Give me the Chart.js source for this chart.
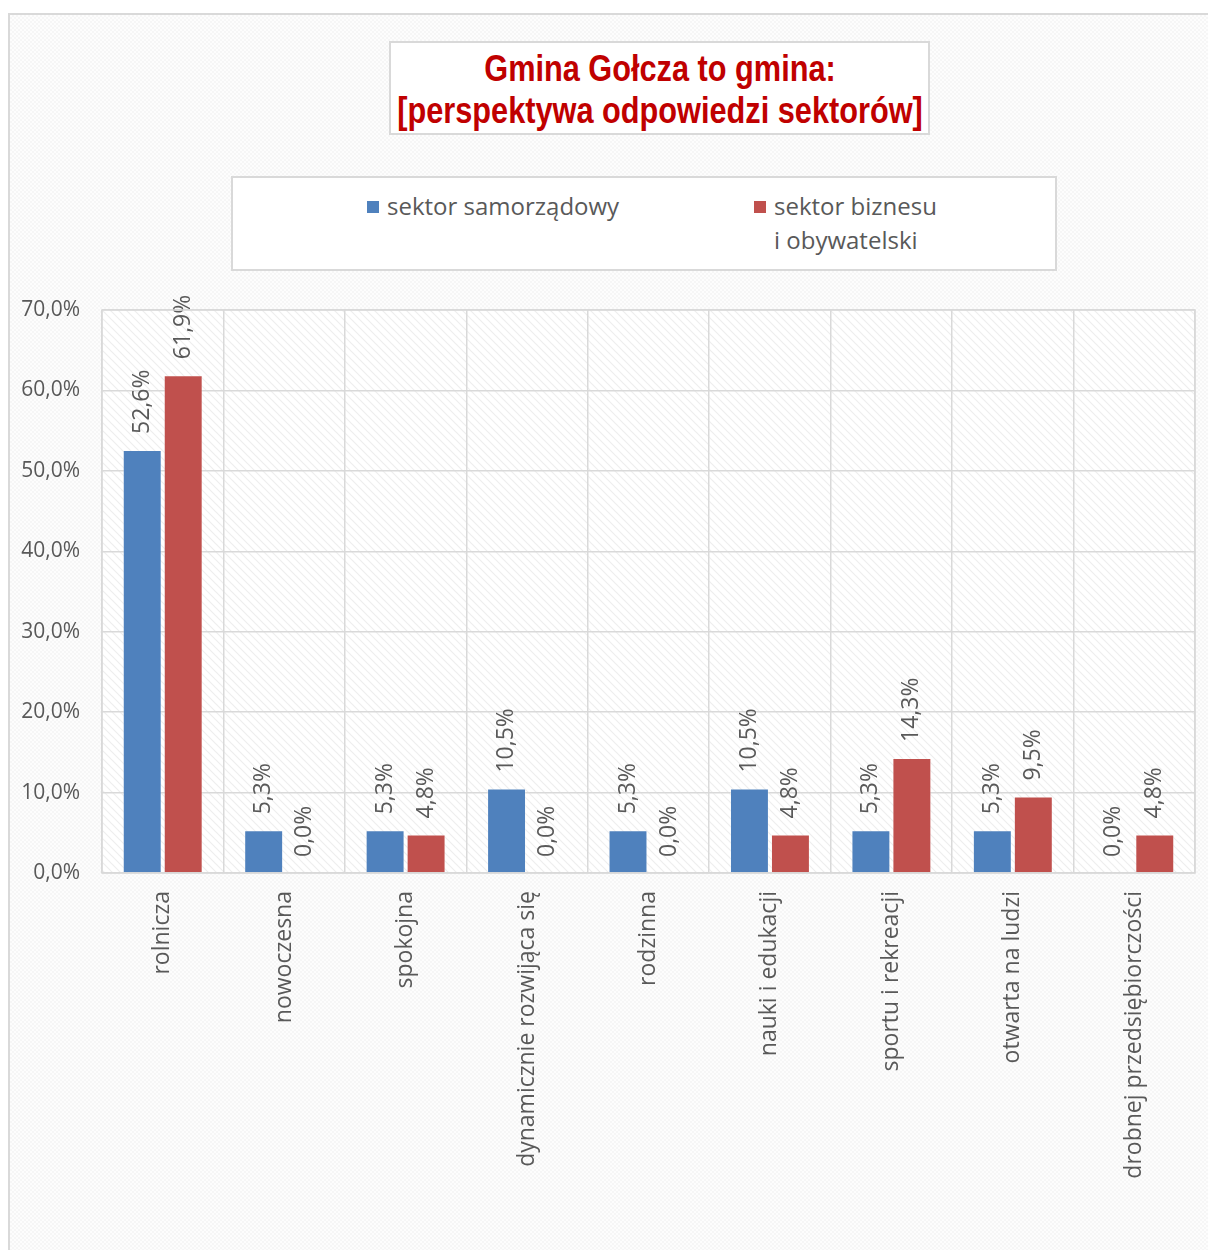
<!DOCTYPE html>
<html>
<head>
<meta charset="utf-8">
<script src="https://cdn.jsdelivr.net/npm/chart.js@4.4.0/dist/chart.umd.min.js"></script>
<style>
  html, body { margin:0; padding:0; background:#fff; }
  #wrap { position:relative; width:1208px; height:1250px; overflow:hidden; }
  #frame { position:absolute; left:8px; top:13px; width:1230px; height:1260px; box-sizing:border-box;
    border:2px solid #d9d9d9;
    background-color:#fbfbfb;
    background-image: repeating-conic-gradient(#f6f6f6 0% 25%, #fdfdfd 0% 50%);
    background-size:4px 4px; }
  #chart { position:absolute; left:0; top:0; }
  #title { position:absolute; left:389px; top:41px; width:541px; height:94px; box-sizing:border-box;
    border:2px solid #d9d9d9; background:#fff; color:#C00000;
    font-family:"Liberation Sans Narrow","Arial Narrow","Liberation Sans",sans-serif; font-weight:bold;
    font-size:37px; line-height:42px; }
  #title span { position:absolute; left:50%; white-space:nowrap;
    transform:translateX(-50%) scaleX(0.83); transform-origin:center; }
  #legend { position:absolute; left:231px; top:176px; width:826px; height:95px; box-sizing:border-box;
    border:2px solid #d9d9d9; background:#fff; font-family:"Open Sans",sans-serif; font-size:24px; color:#595959; }
  .item { position:absolute; line-height:34px; white-space:nowrap; }
  .sw { position:absolute; width:12px; height:12px; }
</style>
</head>
<body>
<div id="wrap">
  <div id="frame"></div>
  <canvas id="chart" width="1208" height="1250"></canvas>
  <div id="title">
    <span style="top:5px;">Gmina Gołcza to gmina:</span>
    <span style="top:47px;">[perspektywa odpowiedzi sektorów]</span>
  </div>
  <div id="legend">
    <div class="sw" style="left:134px; top:23px; background:#4F81BD;"></div>
    <div class="item" style="left:154px; top:11px;">sektor samorządowy</div>
    <div class="sw" style="left:521px; top:23px; background:#C0504D;"></div>
    <div class="item" style="left:541px; top:11px;">sektor biznesu<br>i obywatelski</div>
  </div>
</div>
<script>
const categories = ["rolnicza", "nowoczesna", "spokojna", "dynamicznie rozwijąca się", "rodzinna",
  "nauki i edukacji", "sportu i rekreacji", "otwarta na ludzi", "drobnej przedsiębiorczości"];
const samorzadowy = [52.6, 5.3, 5.3, 10.5, 5.3, 10.5, 5.3, 5.3, 0.0];
const biznesu = [61.9, 0.0, 4.8, 0.0, 0.0, 4.8, 14.3, 9.5, 4.8];
const seriesNames = ["sektor samorządowy", "sektor biznesu i obywatelski"];
const yTicks = [0, 10, 20, 30, 40, 50, 60, 70];

const fmt = v => v.toFixed(1).replace('.', ',') + '%';
const FONT = '"Open Sans", sans-serif';
const TXT = '#595959';

function makeHatch() {
  const c = document.createElement('canvas');
  c.width = 8; c.height = 8;
  const g = c.getContext('2d');
  g.fillStyle = '#ffffff'; g.fillRect(0, 0, 8, 8);
  g.strokeStyle = '#eeeeee'; g.lineWidth = 1.2;
  g.beginPath();
  g.moveTo(0, 0); g.lineTo(8, 8);
  g.moveTo(-4, 4); g.lineTo(4, 12);
  g.moveTo(4, -4); g.lineTo(12, 4);
  g.stroke();
  return c;
}

const plotBg = {
  id: 'plotBg',
  beforeDraw(chart) {
    const { ctx, chartArea: a } = chart;
    ctx.save();
    ctx.fillStyle = ctx.createPattern(makeHatch(), 'repeat');
    ctx.fillRect(a.left, a.top, a.right - a.left, a.bottom - a.top);
    ctx.restore();
  }
};

const valueLabels = {
  id: 'valueLabels',
  afterDatasetsDraw(chart) {
    const ctx = chart.ctx;
    ctx.save();
    ctx.font = '23px ' + FONT;
    ctx.fillStyle = TXT;
    ctx.textAlign = 'left';
    ctx.textBaseline = 'middle';
    chart.data.datasets.forEach((ds, i) => {
      chart.getDatasetMeta(i).data.forEach((el, j) => {
        ctx.save();
        ctx.translate(el.x, el.y - 16);
        ctx.rotate(-Math.PI / 2);
        ctx.fillText(fmt(ds.data[j]), 0, 0);
        ctx.restore();
      });
    });
    ctx.restore();
  }
};

const plotBorder = {
  id: 'plotBorder',
  afterDraw(chart) {
    const { ctx, chartArea: a } = chart;
    ctx.save();
    ctx.strokeStyle = '#d9d9d9'; ctx.lineWidth = 1.5;
    ctx.strokeRect(a.left, a.top, a.right - a.left, a.bottom - a.top);
    ctx.restore();
  }
};

new Chart(document.getElementById('chart'), {
  type: 'bar',
  data: {
    labels: categories,
    datasets: [
      { label: seriesNames[0], data: samorzadowy, backgroundColor: '#4F81BD',
        borderColor: 'rgba(255,255,255,0.3)', borderWidth: 1 },
      { label: seriesNames[1], data: biznesu, backgroundColor: '#C0504D',
        borderColor: 'rgba(255,255,255,0.3)', borderWidth: 1 }
    ]
  },
  options: {
    responsive: false,
    animation: false,
    devicePixelRatio: 1,
    layout: { padding: { top: 310, right: 13, left: 0, bottom: 0 } },
    categoryPercentage: 0.675,
    barPercentage: 0.95,
    plugins: { legend: { display: false }, title: { display: false }, tooltip: { enabled: false } },
    scales: {
      x: {
        grid: { color: '#d9d9d9', lineWidth: 1.5, drawTicks: false, offset: true },
        border: { display: false },
        ticks: { color: TXT, font: { family: FONT, size: 23 }, minRotation: 90, maxRotation: 90,
          autoSkip: false, padding: 18 },
        afterFit(s) { s.height = 377; }
      },
      y: {
        min: 0, max: 70,
        afterBuildTicks(s) { s.ticks = yTicks.map(v => ({ value: v })); },
        grid: { color: '#d9d9d9', lineWidth: 1.5, drawTicks: false },
        border: { display: false },
        ticks: { color: TXT, font: { family: FONT, size: 21 }, padding: 22, callback: v => fmt(v) },
        afterFit(s) { s.width = 102; }
      }
    }
  },
  plugins: [plotBg, valueLabels, plotBorder]
});
</script>
</body>
</html>
